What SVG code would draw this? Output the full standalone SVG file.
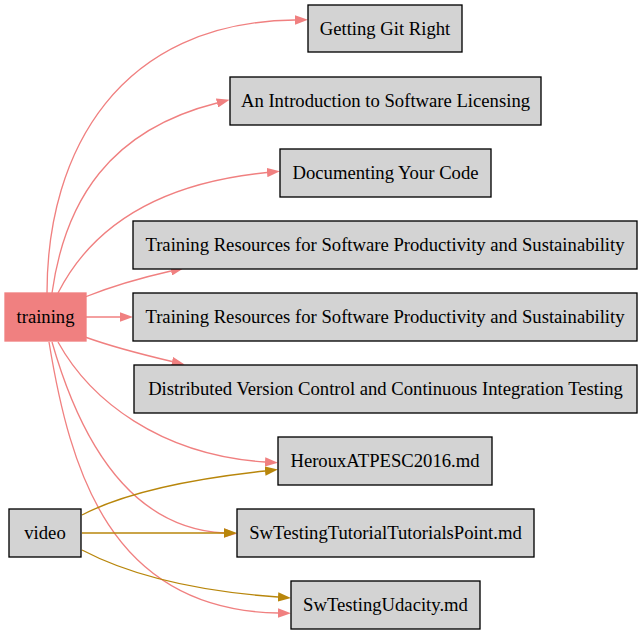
<svg xmlns="http://www.w3.org/2000/svg" width="643" height="635" viewBox="0 0 643 635">
<style>
.n rect{fill:#d3d3d3;stroke:#000;stroke-width:1.33}
text{font-family:"Liberation Serif","Times New Roman",serif;font-size:18.67px;text-anchor:middle;fill:#000}
.t{stroke:#f08080;fill:none;stroke-width:1.33}
.v{stroke:#b8860b;fill:none;stroke-width:1.33}
</style>
<defs>
<marker id="at" viewBox="0 0 13 9.4" refX="0" refY="4.7" markerWidth="13" markerHeight="9.4" markerUnits="userSpaceOnUse" orient="auto"><path d="M0,0 L13,4.7 L0,9.4 z" fill="#f08080"/></marker>
<marker id="av" viewBox="0 0 13 9.4" refX="0" refY="4.7" markerWidth="13" markerHeight="9.4" markerUnits="userSpaceOnUse" orient="auto"><path d="M0,0 L13,4.7 L0,9.4 z" fill="#b8860b"/></marker>
</defs>
<rect width="643" height="635" fill="#fff"/>
<g id="edges">
<path class="t" marker-end="url(#at)" d="M47,293 C47,150 120,22 295,20"/>
<path class="t" marker-end="url(#at)" d="M52,293 C65,200 110,130 217,103"/>
<path class="t" marker-end="url(#at)" d="M58,293 C85,240 140,185 267,172.5"/>
<path class="t" marker-end="url(#at)" d="M85,297 C110,287 140,278 171,271"/>
<path class="t" marker-end="url(#at)" d="M86,317 L120,317"/>
<path class="t" marker-end="url(#at)" d="M85,337 C110,346 140,354 172,361.5"/>
<path class="t" marker-end="url(#at)" d="M58,342 C90,400 160,455 265,462"/>
<path class="t" marker-end="url(#at)" d="M52,342 C80,440 130,528 224,533"/>
<path class="t" marker-end="url(#at)" d="M49,342 C70,470 110,610 278,613"/>
<path class="v" marker-end="url(#av)" d="M82,515 C130,490 200,478 265,471"/>
<path class="v" marker-end="url(#av)" d="M82,533 L224,533"/>
<path class="v" marker-end="url(#av)" d="M82,550 C120,570 180,590 278,597"/>
</g>
<g id="training"><rect x="5" y="293" width="81" height="48" fill="#f08080" stroke="#f08080" stroke-width="1.33"/><text x="45.5" y="323">training</text></g>
<g id="video" class="n"><rect x="9" y="509" width="72" height="48"/><text x="45" y="539">video</text></g>
<g id="n1" class="n"><rect x="308" y="5" width="154" height="47"/><text x="385" y="34.5">Getting Git Right</text></g>
<g id="n2" class="n"><rect x="230" y="77" width="311" height="48"/><text x="385.5" y="107">An Introduction to Software Licensing</text></g>
<g id="n3" class="n"><rect x="280" y="149" width="211" height="48"/><text x="385.5" y="179">Documenting Your Code</text></g>
<g id="n4" class="n"><rect x="133" y="221" width="504" height="48"/><text x="385" y="251">Training Resources for Software Productivity and Sustainability</text></g>
<g id="n5" class="n"><rect x="133" y="293" width="504" height="48"/><text x="385" y="323">Training Resources for Software Productivity and Sustainability</text></g>
<g id="n6" class="n"><rect x="134" y="365" width="503" height="48"/><text x="385.5" y="395">Distributed Version Control and Continuous Integration Testing</text></g>
<g id="n7" class="n"><rect x="278" y="437" width="214" height="48"/><text x="385" y="467">HerouxATPESC2016.md</text></g>
<g id="n8" class="n"><rect x="237" y="509" width="297" height="48"/><text x="385.5" y="539">SwTestingTutorialTutorialsPoint.md</text></g>
<g id="n9" class="n"><rect x="291" y="581" width="189" height="48"/><text x="385.5" y="611">SwTestingUdacity.md</text></g>
</svg>
